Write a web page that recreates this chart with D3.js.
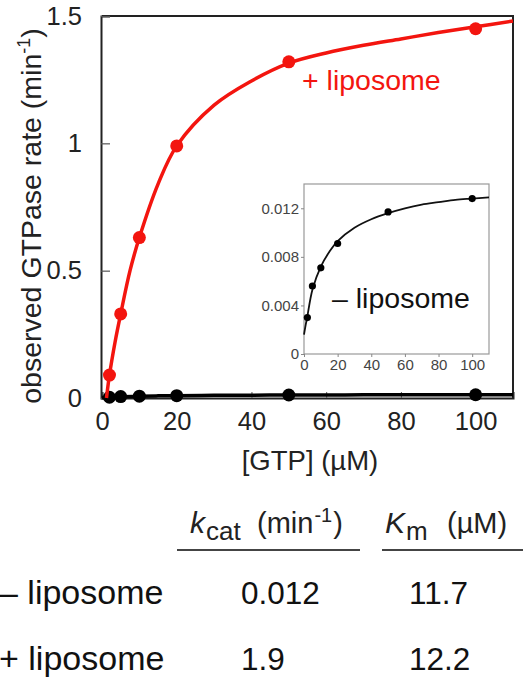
<!DOCTYPE html>
<html>
<head>
<meta charset="utf-8">
<script src="https://cdn.jsdelivr.net/npm/d3@7/dist/d3.min.js"></script>
<style>
  html, body { margin: 0; padding: 0; background: #fff; }
  svg { display: block; font-family: "Liberation Sans", Arial, Helvetica, sans-serif; }
</style>
</head>
<body>
<svg id="chart" width="523" height="680"></svg>
<script>
// GTP concentrations (µM) at which rates were measured
const concentrations = [2, 5, 10, 20, 50, 100];
// observed GTPase rates (min^-1)
const rateWithLiposome = [0.09, 0.33, 0.63, 0.99, 1.32, 1.45];
const rateWithoutLiposome = [0.0030, 0.0056, 0.0071, 0.0091, 0.0117, 0.0128];

// Michaelis–Menten fit curves, sampled along [GTP]
const fitWithX = [1.2, 2, 3.5, 5, 7.5, 10, 15, 20, 30, 40, 50, 60, 70, 80, 90, 100, 110];
const fitWithY = [0.0, 0.09, 0.22, 0.33, 0.50, 0.63, 0.84, 0.99, 1.15, 1.245, 1.315, 1.355, 1.385, 1.41, 1.435, 1.458, 1.48];
const fitWithoutX = [0, 1, 2, 5, 10, 15, 20, 30, 40, 50, 60, 70, 80, 90, 100, 110];
const fitWithoutY = [0.0016, 0.0024, 0.0031, 0.0053, 0.0072, 0.0084, 0.0093, 0.0104, 0.0111, 0.0116, 0.0120, 0.0123, 0.0125, 0.0127, 0.0128, 0.0129];

// axis ticks
const mainXTicks = [0, 20, 40, 60, 80, 100];
const mainYTicks = [0, 0.5, 1, 1.5];
const insetXTicks = [0, 20, 40, 60, 80, 100];
const insetYTicks = [0, 0.004, 0.008, 0.012];

// kinetic parameters table
const tableRows = ["\u2013 liposome", "+ liposome"];
const kcatValues = ["0.012", "1.9"];
const kmValues = ["11.7", "12.2"];

const RED = "#f3150f";
const svg = d3.select("#chart");

// ---------- main plot ----------
const x = d3.scaleLinear().domain([0, 110]).range([102, 513]);
const y = d3.scaleLinear().domain([0, 1.5]).range([398, 16]);

// frame (top and right edges)
svg.append("path")
  .attr("d", `M${x(0)},${y(1.5)}H${x(110)}V${y(0)}`)
  .attr("fill", "none").attr("stroke", "#222").attr("stroke-width", 2);

const xAxis = svg.append("g").attr("transform", `translate(0,${y(0)})`)
  .call(d3.axisBottom(x).tickValues(mainXTicks).tickSize(-6).tickPadding(14).tickFormat(d3.format("d")));
xAxis.select(".domain").attr("stroke", "#222").attr("stroke-width", 2);
xAxis.selectAll(".tick line").attr("stroke", "#555").attr("stroke-width", 1);
xAxis.selectAll("text").attr("font-size", 25.5).attr("fill", "#222");

const yAxis = svg.append("g").attr("transform", `translate(${x(0) - 1},0)`)
  .call(d3.axisLeft(y).tickValues(mainYTicks).tickSize(-9).tickPadding(19).tickFormat(d => d === 0 ? "0" : d3.format("")(d)));
yAxis.select(".domain").attr("stroke", "#222").attr("stroke-width", 2);
yAxis.selectAll(".tick line").attr("stroke", "#555").attr("stroke-width", 1.2);
yAxis.selectAll("text").attr("font-size", 25.5).attr("fill", "#222");

// axis titles
svg.append("text")
  .attr("x", 310).attr("y", 470).attr("text-anchor", "middle")
  .attr("font-size", 27.5).attr("fill", "#222")
  .text("[GTP] (\u00b5M)");

const yTitle = svg.append("text")
  .attr("transform", "translate(41,216) rotate(-90)")
  .attr("text-anchor", "middle").attr("font-size", 28.5).attr("fill", "#222");
yTitle.append("tspan").text("observed GTPase rate (min");
yTitle.append("tspan").attr("font-size", 18).attr("dy", -11).text("-1");
yTitle.append("tspan").attr("dy", 11).text(")");

const line = (sx, sy) => d3.line().x(d => sx(d[0])).y(d => sy(d[1])).curve(d3.curveCatmullRom);

// − liposome on the main scale (hugs the baseline)
svg.append("path")
  .datum(d3.zip(fitWithoutX, fitWithoutY))
  .attr("d", line(x, y)).attr("fill", "none")
  .attr("stroke", "#000").attr("stroke-width", 3.5);
svg.append("g").selectAll("circle")
  .data(d3.zip(concentrations, rateWithoutLiposome)).join("circle")
  .attr("cx", d => x(d[0])).attr("cy", d => y(d[1])).attr("r", 6.5).attr("fill", "#000");

// + liposome
svg.append("path")
  .datum(d3.zip(fitWithX, fitWithY))
  .attr("d", line(x, y)).attr("fill", "none")
  .attr("stroke", RED).attr("stroke-width", 3.5);
svg.append("g").selectAll("circle")
  .data(d3.zip(concentrations, rateWithLiposome)).join("circle")
  .attr("cx", d => x(d[0])).attr("cy", d => y(d[1])).attr("r", 6.5).attr("fill", RED);

svg.append("text")
  .attr("x", 302).attr("y", 90).attr("font-size", 28.5).attr("fill", RED)
  .text("+ liposome");

// ---------- inset: − liposome on its own scale ----------
const xi = d3.scaleLinear().domain([0, 110]).range([304, 489]);
const yi = d3.scaleLinear().domain([0, 0.014]).range([354, 184]);

svg.append("rect")
  .attr("x", xi(0)).attr("y", yi(0.014))
  .attr("width", xi(110) - xi(0)).attr("height", yi(0) - yi(0.014))
  .attr("fill", "#fff").attr("stroke", "#999").attr("stroke-width", 1.2);

const xiAxis = svg.append("g").attr("transform", `translate(0,${yi(0)})`)
  .call(d3.axisBottom(xi).tickValues(insetXTicks).tickSize(3).tickPadding(2).tickFormat(d3.format("d")));
xiAxis.select(".domain").remove();
xiAxis.selectAll(".tick line").attr("stroke", "#888");
xiAxis.selectAll("text").attr("font-size", 15).attr("fill", "#444");

const yiAxis = svg.append("g").attr("transform", `translate(${xi(0)},0)`)
  .call(d3.axisLeft(yi).tickValues(insetYTicks).tickSize(3).tickPadding(2).tickFormat(d => d === 0 ? "0" : d3.format(".3f")(d)));
yiAxis.select(".domain").remove();
yiAxis.selectAll(".tick line").attr("stroke", "#888");
yiAxis.selectAll("text").attr("font-size", 15).attr("fill", "#444");

svg.append("path")
  .datum(d3.zip(fitWithoutX, fitWithoutY))
  .attr("d", line(xi, yi)).attr("fill", "none")
  .attr("stroke", "#111").attr("stroke-width", 1.8);
svg.append("g").selectAll("circle")
  .data(d3.zip(concentrations, rateWithoutLiposome)).join("circle")
  .attr("cx", d => xi(d[0])).attr("cy", d => yi(d[1])).attr("r", 3.6).attr("fill", "#000");

svg.append("text")
  .attr("x", 332).attr("y", 308).attr("font-size", 28.5).attr("fill", "#111")
  .text("\u2013 liposome");

// ---------- kinetic parameter table ----------
const header1 = svg.append("text").attr("y", 533).attr("font-size", 29).attr("fill", "#222");
header1.append("tspan").attr("x", 190).attr("font-style", "italic").attr("font-size", 30).text("k");
header1.append("tspan").attr("x", 206).attr("font-size", 26).attr("dy", 7).text("cat");
header1.append("tspan").attr("x", 257).attr("dy", -7).text("(min");
header1.append("tspan").attr("font-size", 20).attr("dx", 1).attr("dy", -11).text("-1");
header1.append("tspan").attr("dx", 1).attr("dy", 11).text(")");

const header2 = svg.append("text").attr("y", 533).attr("font-size", 29).attr("fill", "#222");
header2.append("tspan").attr("x", 385).attr("font-style", "italic").attr("font-size", 30).text("K");
header2.append("tspan").attr("x", 406).attr("font-size", 26).attr("dy", 7).text("m");
header2.append("tspan").attr("x", 447).attr("dy", -7).text("(\u00b5M)");

svg.append("line").attr("x1", 177).attr("x2", 360).attr("y1", 550).attr("y2", 550)
  .attr("stroke", "#444").attr("stroke-width", 2);
svg.append("line").attr("x1", 382).attr("x2", 523).attr("y1", 550).attr("y2", 550)
  .attr("stroke", "#444").attr("stroke-width", 2);

const rowY = [604, 670];
tableRows.forEach((label, i) => {
  svg.append("text").attr("x", -1).attr("y", rowY[i]).attr("font-size", 34).attr("fill", "#111").text(label);
  svg.append("text").attr("x", 241).attr("y", rowY[i]).attr("font-size", 31.5).attr("fill", "#111").text(kcatValues[i]);
  svg.append("text").attr("x", 409).attr("y", rowY[i]).attr("font-size", 31.5).attr("fill", "#111").text(kmValues[i]);
});
</script>
</body>
</html>
